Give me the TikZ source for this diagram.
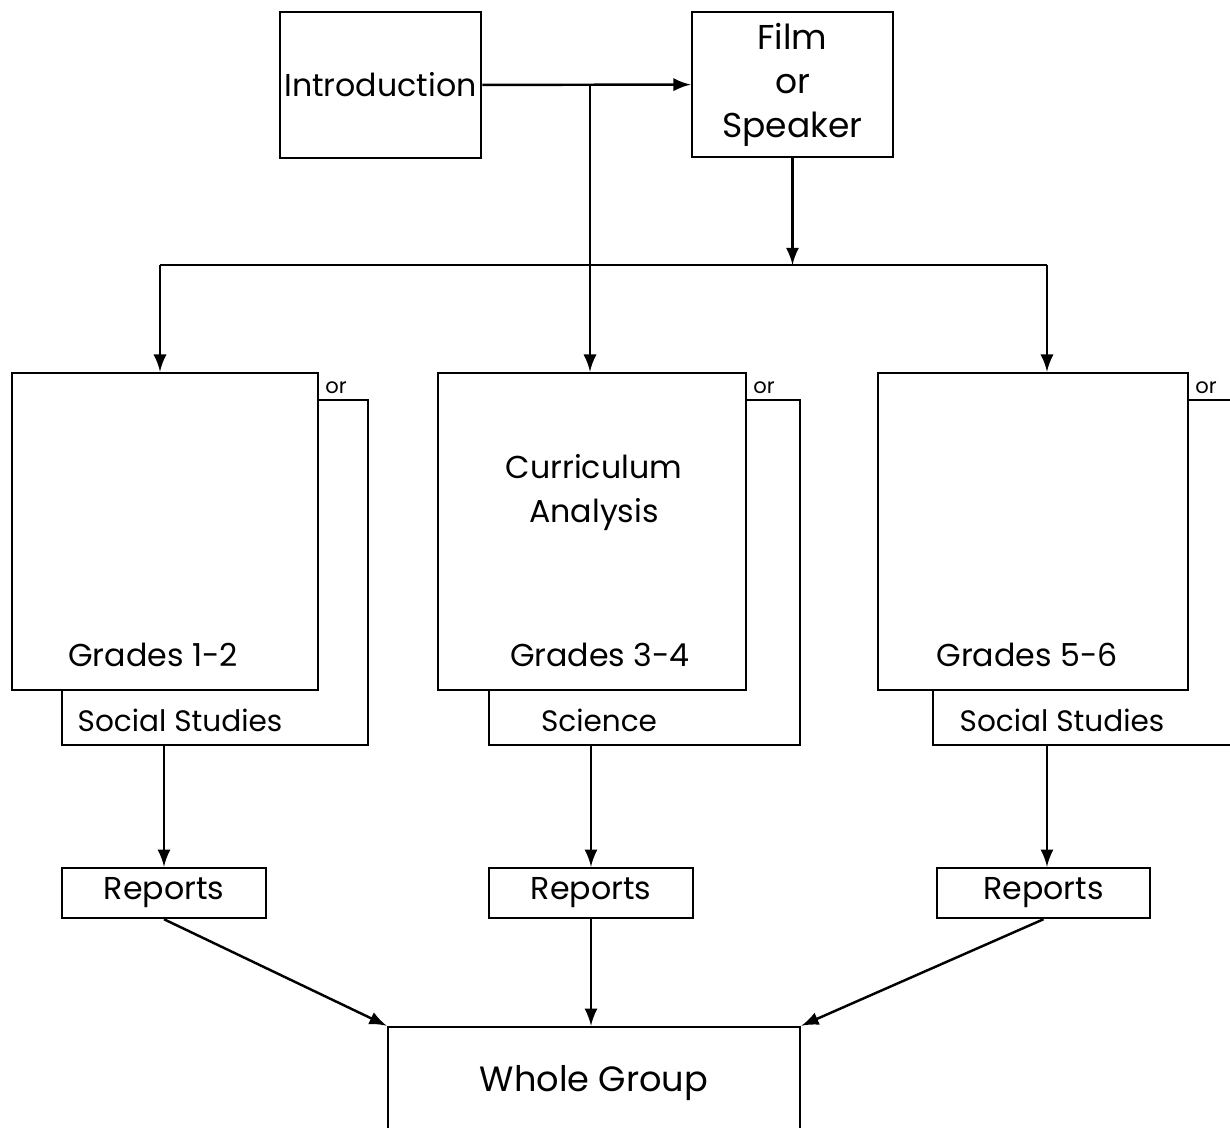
\documentclass[tikz,border=0pt]{standalone}
\usepackage{fontspec}
\setmainfont{Poppins}
\usetikzlibrary{arrows,shapes}
\tikzstyle{block}=[draw,line width=0.7pt,inner sep=0pt,align=center,font=\fontsize{9}{12.5}\selectfont]
\tikzstyle{txt}=[inner sep=0pt,align=center,font=\fontsize{9}{12.5}\selectfont]
\tikzstyle{subj}=[inner sep=0pt,font=\fontsize{8.4}{10}\selectfont]
\tikzstyle{ortxt}=[inner sep=1.5pt,font=\fontsize{6}{7}\selectfont]
\tikzstyle{link}=[line width=0.7pt,-latex]
\tikzstyle{rim}=[line width=0.7pt]

\begin{document}
\begin{tikzpicture}[x=0.01cm,y=-0.01cm]
		\clip (0,0) rectangle (1230,1128);
		% top
		\node[block,minimum width=2.01cm,minimum height=1.46cm] (intro) at (380.5,85) {Introduction};
		\node[block,minimum width=2.01cm,minimum height=1.45cm,font=\fontsize{9.8}{12.5}\selectfont] (film) at (792.5,84.5) {Film\\or\\Speaker};
		\coordinate (jn) at (590,85);
		\coordinate (bl) at (160,265);
		\coordinate (br) at (1047,265);
		% grades
		\node[block,minimum width=3.06cm,minimum height=3.17cm] (g12) at (165,531.5) {};
		\node[block,minimum width=3.08cm,minimum height=3.17cm] (g34) at (592,531.5) {};
		\node[block,minimum width=3.10cm,minimum height=3.17cm] (g56) at (1033,531.5) {};
		\node[txt] (t12) at (153,655) {Grades 1-2};
		\node[txt] (t34) at (600,655) {Grades 3-4};
		\node[txt] (t56) at (1027,655) {Grades 5-6};
		\node[txt] (ca) at (594,493) {Curriculum\\Analysis};
		% subjects
		\coordinate (or12) at (368,400);
		\coordinate (or34) at (800,400);
		\coordinate (or56) at (1245,400);
		\coordinate (ss12) at (62,745);
		\coordinate (ss34) at (489,745);
		\coordinate (ss56) at (933,745);
		\node[subj] (s12) at (180,720) {Social Studies};
		\node[subj] (s34) at (599,720) {Science};
		\node[subj] (s56) at (1062,720) {Social Studies};
		\node[ortxt,anchor=south west] (o12) at (g12.east |- or12) {or};
		\node[ortxt,anchor=south west] (o34) at (g34.east |- or34) {or};
		\node[ortxt,anchor=south west] (o56) at (g56.east |- or56) {or};
		\draw[rim] (g12.east |- or12) -- (or12) -- (or12 |- ss12) -- (ss12) -- (ss12 |- g12.south);
		\draw[rim] (g34.east |- or34) -- (or34) -- (or34 |- ss34) -- (ss34) -- (ss34 |- g34.south);
		\draw[rim] (g56.east |- or56) -- (or56) -- (or56 |- ss56) -- (ss56) -- (ss56 |- g56.south);
		% bottom
		\node[block,minimum width=2.04cm,minimum height=0.50cm] (rep12) at (164,893) {Reports};
		\node[block,minimum width=2.04cm,minimum height=0.50cm] (rep34) at (591,893) {Reports};
		\node[block,minimum width=2.13cm,minimum height=0.50cm] (rep56) at (1043.5,893) {Reports};
		\node[block,minimum width=4.12cm,minimum height=1.12cm,font=\fontsize{10}{12}\selectfont] (wg) at (594,1083) {Whole Group};
		% connection
		\draw[link] (intro) -- (film);
		\draw[rim] (jn) -- (jn |- bl);
		\draw[link] (jn |- bl) -- (jn |- g34.north);
		\draw[link] (film) -- (film |- bl);
		\draw[rim] (bl) -- (br);
		\draw[link] (bl) -- (bl |- g12.north);
		\draw[link] (br) -- (br |- g56.north);
		\draw[link] (rep12.north |- ss12) -- (rep12.north);
		\draw[link] (rep34.north |- ss34) -- (rep34.north);
		\draw[link] (br |- ss56) -- (br |- rep56.north);
		\draw[link] (rep12.south) -- (wg.north west);
		\draw[link] (rep34.south) -- (rep34.south |- wg.north);
		\draw[link] (rep56.south) -- (wg.north east);
	\end{tikzpicture}
\end{document}
